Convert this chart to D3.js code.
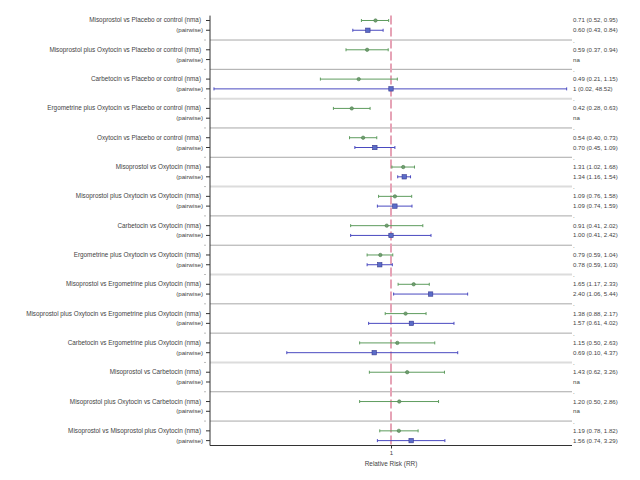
<!DOCTYPE html>
<html><head><meta charset="utf-8">
<script src="https://cdn.jsdelivr.net/npm/d3@7"></script>
<style>body{margin:0;background:#fff}svg{display:block}text{font-family:"Liberation Sans",Arial,sans-serif;fill:#444}</style>
</head><body><svg id="c" width="640" height="480"></svg>
<script>
const comparisons = [
  "Misoprostol  vs Placebo or control",
  "Misoprostol plus Oxytocin vs Placebo or control",
  "Carbetocin  vs Placebo or control",
  "Ergometrine plus Oxytocin vs Placebo or control",
  "Oxytocin vs Placebo or control",
  "Misoprostol  vs Oxytocin",
  "Misoprostol plus Oxytocin vs Oxytocin",
  "Carbetocin  vs Oxytocin",
  "Ergometrine plus Oxytocin vs Oxytocin",
  "Misoprostol  vs Ergometrine plus Oxytocin",
  "Misoprostol plus Oxytocin vs Ergometrine plus Oxytocin",
  "Carbetocin  vs Ergometrine plus Oxytocin",
  "Misoprostol  vs Carbetocin",
  "Misoprostol plus Oxytocin vs Carbetocin",
  "Misoprostol  vs Misoprostol plus Oxytocin"
];
const nmaRR = [0.71,0.59,0.49,0.42,0.54,1.31,1.09,0.91,0.79,1.65,1.38,1.15,1.43,1.20,1.19];
const nmaLo = [0.52,0.37,0.21,0.28,0.40,1.02,0.76,0.41,0.59,1.17,0.88,0.50,0.62,0.50,0.78];
const nmaHi = [0.95,0.94,1.15,0.63,0.73,1.68,1.58,2.02,1.04,2.33,2.17,2.63,3.26,2.86,1.82];
const pwRR = [0.60,null,1.00,null,0.70,1.34,1.09,1.00,0.78,2.40,1.57,0.69,null,null,1.56];
const pwLo = [0.43,null,0.02,null,0.45,1.16,0.74,0.41,0.59,1.06,0.61,0.10,null,null,0.74];
const pwHi = [0.84,null,48.52,null,1.09,1.54,1.59,2.42,1.03,5.44,4.02,4.37,null,null,3.29];
const nmaText = ["0.71 (0.52, 0.95)","0.59 (0.37, 0.94)","0.49 (0.21, 1.15)","0.42 (0.28, 0.63)","0.54 (0.40, 0.73)","1.31 (1.02, 1.68)","1.09 (0.76, 1.58)","0.91 (0.41, 2.02)","0.79 (0.59, 1.04)","1.65 (1.17, 2.33)","1.38 (0.88, 2.17)","1.15 (0.50, 2.63)","1.43 (0.62, 3.26)","1.20 (0.50, 2.86)","1.19 (0.78, 1.82)"];
const pwText = ["0.60 (0.43, 0.84)","na","1 (0.02, 48.52)","na","0.70 (0.45, 1.09)","1.34 (1.16, 1.54)","1.09 (0.74, 1.59)","1.00 (0.41, 2.42)","0.78 (0.59, 1.03)","2.40 (1.06, 5.44)","1.57 (0.61, 4.02)","0.69 (0.10, 4.37)","na","na","1.56 (0.74, 3.29)"];
const xTicks = [1];
const xTitle = "Relative Risk (RR)";

const svg = d3.select("#c");
const L = 210, R = 572, T = 15.6, B = 445.5;
const x = d3.scaleLog().domain([Math.exp(-4), Math.exp(4)]).range([L, R]);
const y = d3.scaleLinear().domain([-0.5, 43.5]).range([T, B]);
const n = comparisons.length;
const nmaCol = "#5e9c5e", nmaDot = "#4d7d4d", pwCol = "#4a4ac0", pwDot = "#5a6cc8";

// separators
for (let g = 0; g < n - 1; g++) {
  const s = 3*g + 2, light = (g % 3 === 2);
  svg.append("line").attr("x1", L).attr("x2", R).attr("y1", y(s)).attr("y2", y(s))
    .attr("stroke", light ? "#dcdcdc" : "#a8a8a8").attr("stroke-width", light ? 2 : 1);
  svg.append("line").attr("x1", L-6).attr("x2", L-4).attr("y1", y(s)).attr("y2", y(s)).attr("stroke", "#bbb");
  svg.append("text").attr("x", R+1).attr("y", y(s)+2.5).attr("font-size", 6).text(".");
}
// reference line
svg.append("line").attr("x1", x(1)).attr("x2", x(1)).attr("y1", T).attr("y2", B)
  .attr("stroke", "#e6a3b6").attr("stroke-width", 2).attr("stroke-dasharray", "9,3");

// axes
svg.append("line").attr("x1", L).attr("x2", L).attr("y1", T).attr("y2", B).attr("stroke", "#333");
svg.append("line").attr("x1", L).attr("x2", R).attr("y1", B).attr("y2", B).attr("stroke", "#333");
const xa = svg.append("g").attr("transform", `translate(0,${B})`)
  .call(d3.axisBottom(x).tickValues(xTicks).tickFormat(d3.format("d")).tickSize(3).tickPadding(2));
xa.select(".domain").remove();
xa.selectAll("line").attr("stroke", "#333");
xa.selectAll("text").attr("font-size", 6).attr("fill", "#444").style("font-family", "Liberation Sans, Arial");
svg.append("text").attr("x", x(1)).attr("y", 465.5).attr("text-anchor", "middle").attr("font-size", 6.4).text(xTitle);

// rows
comparisons.forEach((c, g) => {
  const yn = y(3*g), yp = y(3*g+1);
  [yn, yp].forEach(yy => svg.append("line").attr("x1", L-4).attr("x2", L).attr("y1", yy).attr("y2", yy).attr("stroke", "#333"));
  svg.append("text").attr("x", 201).attr("y", yn+2).attr("text-anchor", "end").attr("font-size", 6.35).text(c + " (nma)");
  svg.append("text").attr("x", 203).attr("y", yp+2).attr("text-anchor", "end").attr("font-size", 6.2).text("(pairwise)");
  svg.append("text").attr("x", R+1).attr("y", yn+2).attr("font-size", 6.1).text(nmaText[g]);
  svg.append("text").attr("x", R+1).attr("y", yp+2).attr("font-size", 6.1).text(pwText[g]);
  // nma CI
  svg.append("line").attr("x1", x(nmaLo[g])).attr("x2", x(nmaHi[g])).attr("y1", yn).attr("y2", yn).attr("stroke", nmaCol);
  [nmaLo[g], nmaHi[g]].forEach(v => svg.append("line").attr("x1", x(v)).attr("x2", x(v)).attr("y1", yn-1.5).attr("y2", yn+1.5).attr("stroke", nmaCol));
  svg.append("circle").attr("cx", x(nmaRR[g])).attr("cy", yn).attr("r", 1.7).attr("fill", "#6f9f6f").attr("stroke", nmaDot).attr("stroke-width", 0.6);
  if (pwRR[g] != null) {
    svg.append("line").attr("x1", x(pwLo[g])).attr("x2", x(pwHi[g])).attr("y1", yp).attr("y2", yp).attr("stroke", pwCol);
    [pwLo[g], pwHi[g]].forEach(v => svg.append("line").attr("x1", x(v)).attr("x2", x(v)).attr("y1", yp-1.5).attr("y2", yp+1.5).attr("stroke", pwCol));
    svg.append("rect").attr("x", x(pwRR[g])-2.2).attr("y", yp-2.2).attr("width", 4.4).attr("height", 4.4)
      .attr("fill", pwDot).attr("stroke", "#3a3a90").attr("stroke-width", 0.6);
  }
});
</script></body></html>
